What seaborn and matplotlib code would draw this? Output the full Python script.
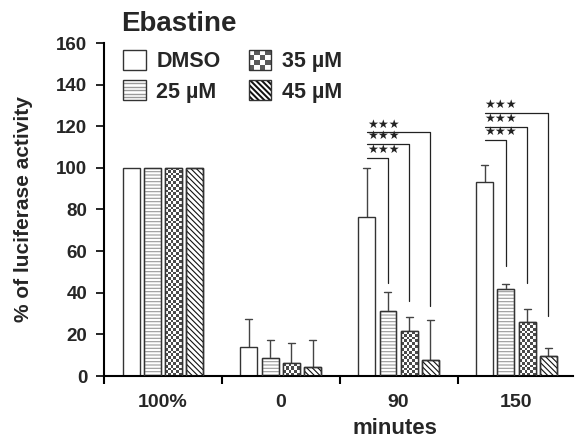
import numpy as np
import pandas as pd
import matplotlib
matplotlib.use("Agg")
import matplotlib.pyplot as plt
import seaborn as sns
from matplotlib.patches import Rectangle, Patch, Polygon
from matplotlib.legend_handler import HandlerPatch

# ---------------- data ----------------
groups = ["100%", "0", "90", "150"]
treatments = ["DMSO", "25 µM", "35 µM", "45 µM"]
dmso = [100, 14.1, 76.3, 93.1]
uM25 = [100, 8.5, 31.1, 41.8]
uM35 = [100, 6.1, 21.5, 25.8]
uM45 = [100, 4.3, 7.5, 9.6]
err_dmso = [0, 13.1, 23.7, 8.5]
err_25 = [0, 8.6, 9.3, 2.6]
err_35 = [0, 9.6, 6.7, 6.3]
err_45 = [0, 12.8, 19.4, 3.7]
# significance brackets: (group, compared treatment index, line level, drop-to level)
sig_groups = ["90", "90", "90", "150", "150", "150"]
sig_targets = [1, 2, 3, 1, 2, 3]
sig_levels = [104.9, 111.4, 117.0, 113.5, 119.7, 126.6]
sig_bottoms = [44.9, 36.2, 33.7, 53.0, 44.6, 29.0]
sig_text = "★★★"

values = [dmso, uM25, uM35, uM45]
errors = [err_dmso, err_25, err_35, err_45]
rows = []
for t, vals, errs in zip(treatments, values, errors):
    for g, v, e in zip(groups, vals, errs):
        rows.append({"group": g, "treatment": t, "value": v, "err": e})
df = pd.DataFrame(rows)

# ---------------- style ----------------
sns.set_theme(style="ticks")
plt.rcParams["font.family"] = ["Liberation Sans", "DejaVu Sans"]
plt.rcParams["font.weight"] = "bold"
plt.rcParams["hatch.linewidth"] = 0.8

fig = plt.figure(figsize=(5.77, 4.44), dpi=100)
ax = fig.add_axes([104 / 577, 1 - 376 / 444, (573 - 104) / 577, 333 / 444])

sns.barplot(data=df, x="group", y="value", hue="treatment", order=groups,
            hue_order=treatments, palette=["white"] * 4, width=0.72, gap=0.2,
            errorbar=None, edgecolor="#333333", linewidth=1.0, ax=ax,
            legend=False, saturation=1)

ax.set_ylim(0, 160)
ax.set_xlim(-0.5, 3.48)

edge = "#333333"
hatch_cols = {1: "#9a9a9a", 3: "#111111"}
hatches = {1: "-----", 3: "\\\\\\\\\\\\"}
has_hc = hasattr(Patch(), "set_hatchcolor")

# pixel scales
p0 = ax.transData.transform((0, 0))
p1 = ax.transData.transform((1, 1))
px_x = p1[0] - p0[0]
px_y = p1[1] - p0[1]

centers = {}
for ti, cont in enumerate(ax.containers):
    for gi, bar in enumerate(cont):
        x0 = bar.get_x()
        w = bar.get_width()
        h = bar.get_height()
        centers[(ti, gi)] = x0 + w / 2
        bar.set_zorder(2)
        if ti in hatches:
            bar.set_hatch(hatches[ti])
            if has_hc:
                bar.set_hatchcolor(hatch_cols[ti])
            else:
                bar.set_edgecolor(hatch_cols[ti])
                ax.add_patch(Rectangle((x0, 0), w, h, facecolor="none", edgecolor=edge, lw=1.0, zorder=3))
        if ti == 2:
            ncol = 6
            cell_px = w * px_x / ncol
            nrow = max(1, int(round(h * px_y / cell_px)))
            arr = (np.add.outer(np.arange(nrow), np.arange(ncol)) % 2).astype(float)
            im = ax.imshow(arr, extent=[x0, x0 + w, 0, h],
                           cmap=matplotlib.colors.ListedColormap(["white", "#4a4a4a"]),
                           interpolation="nearest", aspect="auto", zorder=2.5, origin="lower")
            im.set_clip_path(bar)
            ax.add_patch(Rectangle((x0, 0), w, h, facecolor="none", edgecolor=edge, lw=1.0, zorder=3))
        # error bars (upper only)
        e = errors[ti][gi]
        if e > 0:
            cx = x0 + w / 2
            ax.plot([cx, cx], [h, h + e], color="#444444", lw=1.0, zorder=1.5, solid_capstyle="butt")
            ax.plot([cx - 3.5 / px_x, cx + 3.5 / px_x], [h + e, h + e], color="#444444", lw=1.0, zorder=1.5)

ax.set_xlim(-0.5, 3.48)
ax.set_ylim(0, 160)

# significance brackets
for g, t, lvl, bot in zip(sig_groups, sig_targets, sig_levels, sig_bottoms):
    gi = groups.index(g)
    xs = centers[(0, gi)]
    xt = centers[(t, gi)]
    ax.plot([xs, xt, xt], [lvl, lvl, bot], color="#222222", lw=0.9, zorder=4)
    ax.text(xs, lvl + 0.9, sig_text, ha="left", va="bottom", fontsize=8.7,
            family="DejaVu Sans", color="#222222", zorder=4)

# axes styling
sns.despine(ax=ax)
for s in ["left", "bottom"]:
    ax.spines[s].set_linewidth(1.5)
    ax.spines[s].set_color("black")
ax.set_yticks(np.arange(0, 161, 20))
ax.tick_params(axis="y", direction="out", length=6, width=1.2, labelsize=13.5, pad=6, color="black")
ax.set_xticks(range(4))
ax.set_xticklabels(groups)
ax.tick_params(axis="x", which="major", length=0, labelsize=14, pad=13)
ax.set_xticks([-0.5, 0.5, 1.5, 2.5], minor=True)
ax.tick_params(axis="x", which="minor", direction="out", length=6, width=1.5, color="black")
for lab in ax.get_xticklabels() + ax.get_yticklabels():
    lab.set_fontweight("bold")
ax.set_xlabel("minutes", fontsize=16, fontweight="bold")
ax.xaxis.set_label_coords(0.62, -0.125)
ax.set_ylabel("% of luciferase activity", fontsize=15, fontweight="bold")
ax.yaxis.set_label_coords(-0.151, 0.5)
fig.text(121 / 577, 1 - 31 / 444, "Ebastine", fontsize=20, fontweight="bold", ha="left", va="baseline")


# legend handlers
class CheckerHandler(HandlerPatch):
    def create_artists(self, legend, orig_handle, xdescent, ydescent, width, height, fontsize, trans):
        arts = [Rectangle((-xdescent, -ydescent), width, height, facecolor="white", edgecolor="none", transform=trans)]
        n = 4
        for i in range(n):
            for j in range(n):
                if (i + j) % 2 == 0:
                    arts.append(Rectangle((-xdescent + i * width / n, -ydescent + j * height / n), width / n, height / n,
                                          facecolor="#5a5a5a", edgecolor="none", transform=trans))
        arts.append(Rectangle((-xdescent, -ydescent), width, height, facecolor="none", edgecolor=edge, lw=1.0, transform=trans))
        return arts


class StripeHandler(HandlerPatch):
    def create_artists(self, legend, orig_handle, xdescent, ydescent, width, height, fontsize, trans):
        x0, y0 = -xdescent, -ydescent
        arts = [Rectangle((x0, y0), width, height, facecolor="white", edgecolor="none", transform=trans)]
        bg = Rectangle((x0, y0), width, height, facecolor="none", edgecolor="none", transform=trans)
        step = width / 4.0
        sw = step * 0.5
        for k in range(-6, 8):
            s = x0 + k * step
            poly = Polygon([(s, y0 + height), (s + sw, y0 + height), (s + sw + height, y0), (s + height, y0)],
                           closed=True, facecolor="#111111", edgecolor="none", transform=trans)
            poly.set_clip_path(bg)
            arts.append(poly)
        arts.append(bg)
        arts.append(Rectangle((x0, y0), width, height, facecolor="none", edgecolor=edge, lw=1.0, transform=trans))
        return arts


class LinesHandler(HandlerPatch):
    def create_artists(self, legend, orig_handle, xdescent, ydescent, width, height, fontsize, trans):
        x0, y0 = -xdescent, -ydescent
        arts = [Rectangle((x0, y0), width, height, facecolor="white", edgecolor="none", transform=trans)]
        n = 6
        for k in range(1, n):
            yy = y0 + k * height / n
            arts.append(Polygon([(x0, yy), (x0 + width, yy)], closed=False, fill=False,
                                edgecolor="#9a9a9a", lw=1.0, transform=trans))
        arts.append(Rectangle((x0, y0), width, height, facecolor="none", edgecolor=edge, lw=1.0, transform=trans))
        return arts


h_dmso = Patch(facecolor="white", edgecolor=edge, lw=1.0)
h_25 = Patch(facecolor="white", edgecolor=edge)
h_35 = Patch(facecolor="white", edgecolor=edge)
h_45 = Patch(facecolor="white", edgecolor=edge)
leg = ax.legend([h_dmso, h_25, h_35, h_45], treatments, ncol=2, frameon=False,
                loc="upper left", bbox_to_anchor=(0.022, 1.006),
                prop={"weight": "bold", "size": 15.5},
                handlelength=1.05, handleheight=1.08, handletextpad=0.5,
                columnspacing=1.3, labelspacing=0.37, borderaxespad=0,
                handler_map={h_25: LinesHandler(), h_35: CheckerHandler(), h_45: StripeHandler()})

fig.savefig("out.png", dpi=100)
